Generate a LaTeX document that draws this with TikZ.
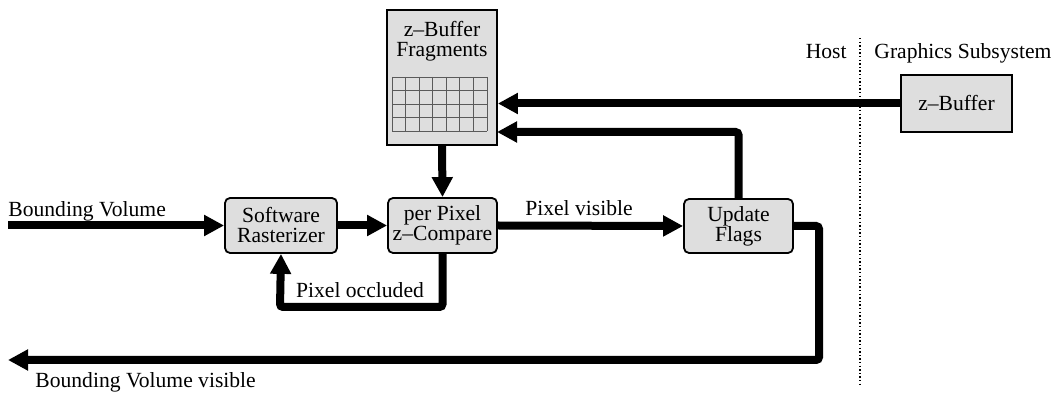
\documentclass[tikz,border=0pt]{standalone}
\usepackage{fontspec}
\setmainfont{Liberation Serif}
\usetikzlibrary{arrows.meta,calc}
\definecolor{boxgray}{RGB}{222,222,222}
\definecolor{gridgray}{RGB}{90,90,90}
\begin{document}
\begin{tikzpicture}[x=0.5pt,y=-0.5pt,
  txt/.style={font=\fontsize{10.8}{10}\selectfont, inner sep=0pt},
  procbox/.style={draw, line width=0.9pt, fill=boxgray, rounded corners=2.5pt,
    align=center, font=\fontsize{10.8}{10}\selectfont, inner sep=0pt},
  storebox/.style={draw, line width=0.9pt, fill=boxgray, inner sep=0pt},
  flow/.style={line width=4pt, rounded corners=1.5pt,
    -{Triangle[length=10pt,width=10pt]}}]
\useasboundingbox (0,0) rectangle (1063,394);

% host / graphics subsystem separator
\coordinate (septop) at (860,38);
\coordinate (sepbot) at (860,386);
\draw[line width=0.7pt, dash pattern=on 0.7pt off 1.1pt] (septop) -- (sepbot);
\node[txt, anchor=base east] (host) at (847,59) {Host};
\node[txt, anchor=base west] (gfx) at (874,59) {Graphics Subsystem};

% z-buffer fragments store with its grid (7 columns, 4 rows)
\node[storebox, minimum width=55pt, minimum height=67.5pt] (frag) at (442,77.5) {};
\node[txt, align=center] (fraglbl) at (442,41) {z--Buffer\\Fragments};
\begin{scope}[gridgray, line width=0.4pt]
  \foreach \i in {0,...,7} \draw (392+\i*13.571,77) -- (392+\i*13.571,131);
  \foreach \j in {0,...,4} \draw (392,77+\j*13.5) -- (487,77+\j*13.5);
\end{scope}

% z-buffer in the graphics subsystem
\node[storebox, minimum width=55.5pt, minimum height=28.5pt, font=\fontsize{10.8}{10}\selectfont]
  (zbuf) at (956.5,103.5) {z--Buffer};

% processing stages
\node[procbox, minimum width=56pt, minimum height=27.5pt] (raster) at (281,225.5) {Software\\Rasterizer};
\node[procbox, minimum width=54.5pt, minimum height=27.5pt] (cmp) at (442.5,225.5) {per Pixel\\z--Compare};
\node[procbox, minimum width=54.5pt, minimum height=27pt] (upd) at (738.5,226) {Update\\Flags};

% free ends and turning points
\coordinate (bvin) at (8,225.5);
\coordinate (bvout) at (8,360);
\coordinate (turn) at (819,360);
\coordinate (occ) at (280,307);
\coordinate (fragin) at (497,132);

% connectors
\draw[flow] (bvin) -- (raster.west);
\node[txt, anchor=base west] (bvlbl) at (8,217) {Bounding Volume};
\draw[flow] (raster.east) -- (cmp.west);
\draw[flow] (frag.south) -- (cmp.north);
\draw[flow] (cmp.east) -- (upd.west);
\node[txt, anchor=base] (vislbl) at (579,216) {Pixel visible};
\draw[flow] (cmp.south) |- (occ) -- (raster.south);
\node[txt, anchor=base] (occlbl) at (360,298) {Pixel occluded};
\draw[flow] (zbuf.west) -- (zbuf.west -| frag.east);
\draw[flow] (upd.north) |- (fragin);
\draw[flow] (upd.east) -| (turn) -- (bvout);
\node[txt, anchor=base west] (bvvislbl) at (35,387) {Bounding Volume visible};
\end{tikzpicture}
\end{document}
